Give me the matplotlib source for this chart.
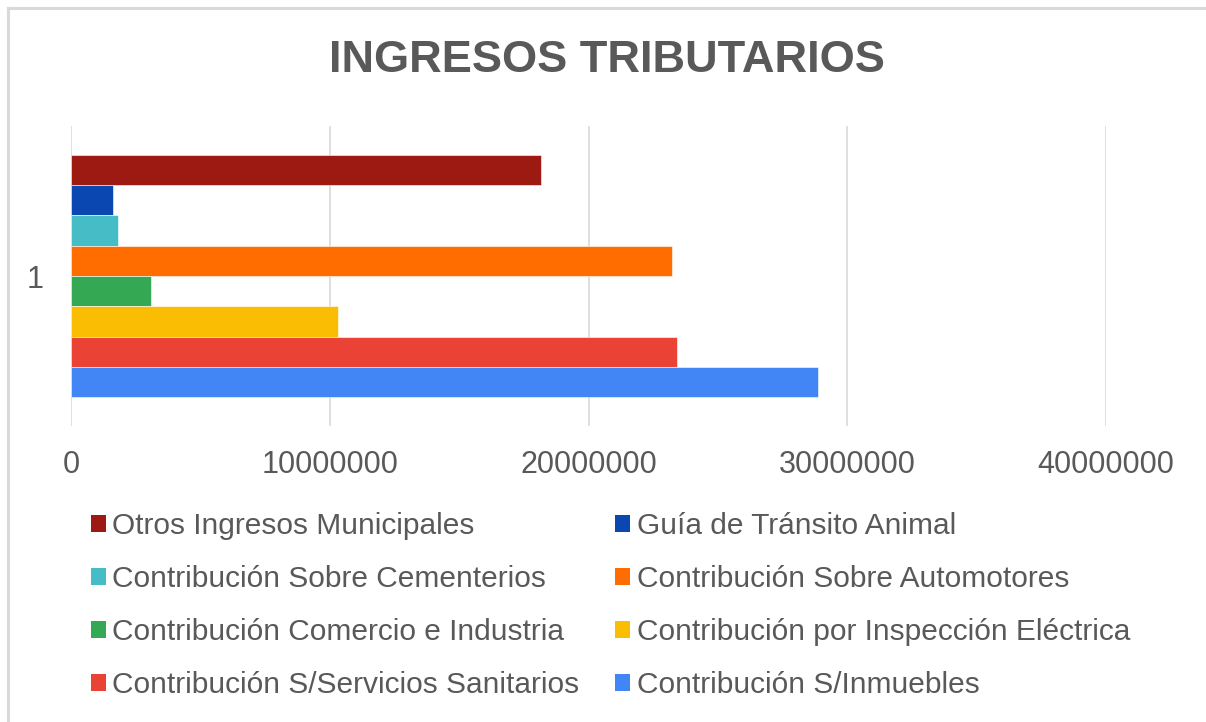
import matplotlib
matplotlib.use("Agg")
import matplotlib.pyplot as plt
from matplotlib.patches import Patch
from matplotlib.lines import Line2D

# series, listed top bar first (same order as the legend)
series = [
    "Otros Ingresos Municipales",
    "Guía de Tránsito Animal",
    "Contribución Sobre Cementerios",
    "Contribución Sobre Automotores",
    "Contribución Comercio e Industria",
    "Contribución por Inspección Eléctrica",
    "Contribución S/Servicios Sanitarios",
    "Contribución S/Inmuebles",
]
values = [18160000, 1630000, 1820000, 23230000, 3110000, 10330000, 23430000, 28880000]
colors = ["#9c1a12", "#0b47b0", "#46bdc6", "#ff6d00", "#34a853", "#fbbc04", "#ea4335", "#4285f4"]
category = "1"
xticks = [0, 10000000, 20000000, 30000000, 40000000]

text_col = "#595959"
plt.rcParams["font.family"] = ["Liberation Sans", "DejaVu Sans"]

fig = plt.figure(figsize=(12.06, 7.22), dpi=100)
ax = fig.add_axes([71 / 1206, 1 - 426 / 722, (1106 - 71) / 1206, 300 / 722])

n = len(series)
bh = 0.101
for i, (name, v, c) in enumerate(zip(series, values, colors)):
    y = (n - 1) / 2 * bh - i * bh
    ax.barh(y, v, height=bh, color=c, edgecolor="white", linewidth=0.4, label=name, zorder=3)

ax.set_ylim(-0.5, 0.5)
ax.set_xlim(0, 40000000)
ax.set_xticks(xticks)
ax.set_xticklabels([str(t) for t in xticks])
ax.set_yticks([0])
ax.set_yticklabels([category])
ax.grid(axis="x", color="#d9d9d9", linewidth=1.2, zorder=0)
for s in ax.spines.values():
    s.set_visible(False)
ax.tick_params(axis="x", length=0, pad=17, labelsize=22, labelcolor=text_col)
ax.tick_params(axis="y", length=0, pad=20, labelsize=22, labelcolor=text_col)

fig.text(0.503, 1 - 60 / 722, "INGRESOS TRIBUTARIOS", ha="center", va="center",
         fontsize=32.5, fontweight="bold", color=text_col)

# legend, two columns filled in reading order (row by row)
order = [0, 2, 4, 6, 1, 3, 5, 7]
handles = [Patch(facecolor=colors[k], edgecolor="none") for k in order]
labels = [series[k] for k in order]
fig.legend(handles, labels, loc="upper left", bbox_to_anchor=(76 / 1206, 1 - 497 / 722),
           ncol=2, frameon=False, fontsize=21.5, labelcolor=text_col,
           handlelength=0.5, handleheight=0.5, handletextpad=0.22,
           columnspacing=1.2, labelspacing=0.84, borderpad=0)

# outer frame lines (left and top)
fig.add_artist(Line2D([7.5 / 1206, 7.5 / 1206], [0, 1 - 7.5 / 722], color="#d9d9d9",
                      linewidth=2.2, transform=fig.transFigure))
fig.add_artist(Line2D([7.5 / 1206, 1], [1 - 7.5 / 722, 1 - 7.5 / 722], color="#d9d9d9",
                      linewidth=2.2, transform=fig.transFigure))

fig.savefig("out.png", dpi=100, facecolor="white")
